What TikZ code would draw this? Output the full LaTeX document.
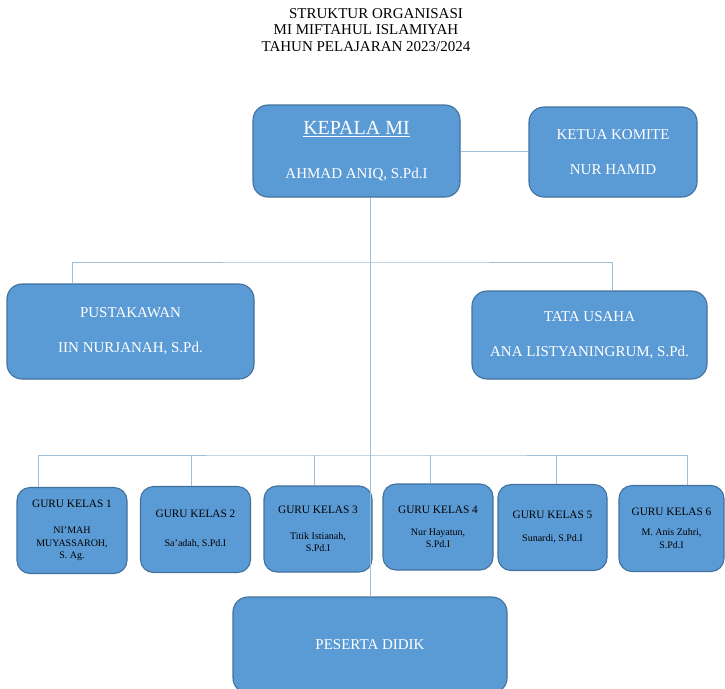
\documentclass[tikz,border=0pt]{standalone}
\usepackage{fontspec}
\setmainfont{Liberation Serif}
\definecolor{boxblue}{RGB}{91,155,213}
\definecolor{boxedge}{RGB}{65,113,156}
\definecolor{linkblue}{RGB}{160,190,214}

\begin{document}
\begin{tikzpicture}[x=1pt,y=-1pt,
    unit/.style={draw=boxedge,line width=1.1pt,fill=boxblue,rounded corners=15pt,align=center,inner sep=0pt},
    bigunit/.style={unit,text=white,font=\fontsize{15}{35}\selectfont},
    guru/.style={unit,rounded corners=13pt,minimum width=110pt,minimum height=86pt,text=black,font=\fontsize{10}{12.5}\selectfont},
    link/.style={draw=linkblue,line width=0.9pt}]
    \useasboundingbox (0,0) rectangle (725,688);
    \node[align=center,font=\fontsize{15}{16.5}\selectfont] (judul) at (366,30)
        {\hspace*{20pt}STRUKTUR ORGANISASI\\MI MIFTAHUL ISLAMIYAH\\TAHUN PELAJARAN 2023/2024};

    \node[bigunit,minimum width=207pt,minimum height=92pt] (kepala) at (356.5,151)
        {{\fontsize{20}{20}\selectfont\underline{KEPALA MI}}\\[9pt]AHMAD ANIQ, S.Pd.I};
    \node[bigunit,minimum width=168pt,minimum height=90pt] (komite) at (613,152)
        {KETUA KOMITE\\NUR HAMID};
    \node[bigunit,minimum width=247pt,minimum height=95pt] (pustakawan) at (130.5,331.5)
        {PUSTAKAWAN\\IIN NURJANAH, S.Pd.};
    \node[bigunit,minimum width=235pt,minimum height=88pt] (tatausaha) at (589.5,335)
        {TATA USAHA\\ANA LISTYANINGRUM, S.Pd.};

    \node[guru] (guru1) at (72,530.5)
        {{\fontsize{11.3}{13}\selectfont GURU KELAS 1}\\[13.5pt]NI’MAH\\MUYASSAROH,\\S. Ag.};
    \node[guru] (guru2) at (195.5,529.5)
        {{\fontsize{11.3}{13}\selectfont GURU KELAS 2}\\[16.5pt]Sa’adah, S.Pd.I};
    \node[guru,minimum width=108pt] (guru3) at (318,529)
        {{\fontsize{11.3}{13}\selectfont GURU KELAS 3}\\[13.5pt]Titik Istianah,\\S.Pd.I};
    \node[guru] (guru4) at (438,527)
        {{\fontsize{11.3}{13}\selectfont GURU KELAS 4}\\[9.5pt]Nur Hayatun,\\S.Pd.I};
    \node[guru,minimum width=109pt] (guru5) at (552.5,527.5)
        {{\fontsize{11.3}{13}\selectfont GURU KELAS 5}\\[10.5pt]Sunardi, S.Pd.I};
    \node[guru,minimum width=105pt] (guru6) at (671.5,528.5)
        {{\fontsize{11.3}{13}\selectfont GURU KELAS 6}\\[7.5pt]M. Anis Zuhri,\\S.Pd.I};

    \node[bigunit,minimum width=274pt,minimum height=96pt] (peserta) at (370,645)
        {PESERTA DIDIK};

    \coordinate (bus1) at (370,262);
    \coordinate (bus2) at (370,455);
    \draw[link] (kepala.east) -- (kepala.east -| komite.west);
    \draw[link] (kepala.south -| peserta.north) -- (peserta.north);
    \draw[link] ([xshift=-58.5pt]pustakawan.north) |- (bus1) -| ([xshift=22.5pt]tatausaha.north);
    \draw[link] ([xshift=-34pt]guru1.north) |- (bus2) -| ([xshift=15.5pt]guru6.north);
    \foreach \n/\dx in {2/-4.5,3/-4,4/-8,5/3.5}
        \draw[link] ([xshift=\dx pt]guru\n.north) -- ([xshift=\dx pt]guru\n.north |- bus2);
\end{tikzpicture}
\end{document}
